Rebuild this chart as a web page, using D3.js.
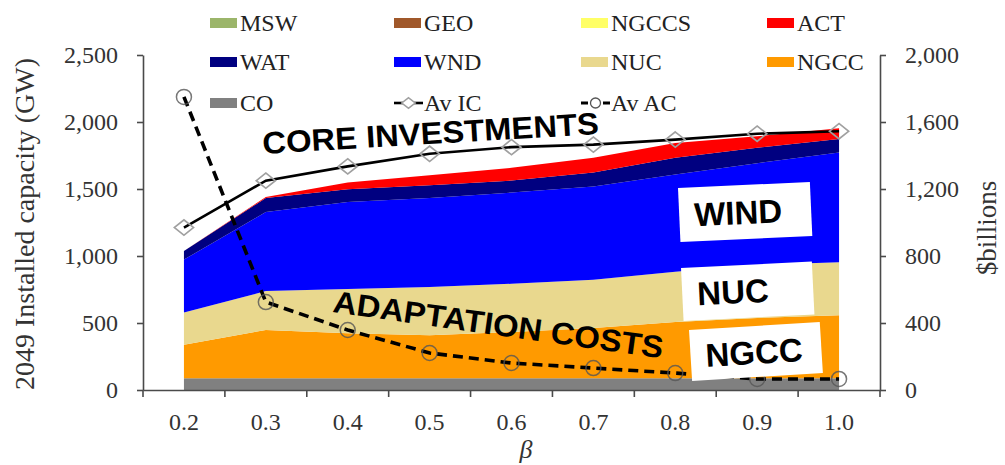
<!DOCTYPE html>
<html>
<head>
<meta charset="utf-8">
<script src="https://cdn.jsdelivr.net/npm/d3@7"></script>
<style>
  body { margin: 0; background: #fff; }
  svg { display: block; }
</style>
</head>
<body>
<svg id="chart" width="1005" height="465"></svg>
<script>
// Sensitivity parameter beta
const betas = ["0.2", "0.3", "0.4", "0.5", "0.6", "0.7", "0.8", "0.9", "1.0"];

// 2049 installed capacity by technology (GW)
const CO    = [88, 88, 88, 88, 88, 88, 88, 88, 88];
const NGCC  = [250, 360, 335, 320, 345, 375, 420, 450, 470];
const NUC   = [240, 290, 330, 360, 360, 360, 375, 395, 395];
const NGCCS = [0, 0, 0, 0, 0, 0, 0, 0, 0];
const WND   = [395, 590, 650, 665, 680, 695, 725, 760, 820];
const WAT   = [65, 105, 95, 95, 90, 105, 125, 115, 100];
const GEO   = [0, 0, 0, 0, 0, 0, 0, 0, 0];
const MSW   = [0, 0, 0, 0, 0, 0, 0, 0, 0];
const ACT   = [0, 8, 50, 75, 95, 110, 110, 85, 80];

// Average investment and adaptation costs ($ billions)
const AvIC = [970, 1250, 1335, 1410, 1450, 1465, 1495, 1530, 1545];
const AvAC = [1750, 525, 358, 221, 161, 131, 101, 66, 66];

// Axis ticks
const leftTicks  = [0, 500, 1000, 1500, 2000, 2500];
const rightTicks = [0, 400, 800, 1200, 1600, 2000];

const seriesKeys = ["CO", "NGCC", "NUC", "NGCCS", "WND", "WAT", "GEO", "MSW", "ACT"];
const seriesVals = { CO, NGCC, NUC, NGCCS, WND, WAT, GEO, MSW, ACT };
const colors = {
  MSW: "#9bb56a", GEO: "#a0582a", NGCCS: "#ffff66", ACT: "#ff0000",
  WAT: "#000080", WND: "#0000ff", NUC: "#e9d88e", NGCC: "#ff9a00",
  CO: "#808080"
};

const table = betas.map((b, i) => {
  const row = { beta: b };
  seriesKeys.forEach(k => row[k] = seriesVals[k][i]);
  return row;
});

const svg = d3.select("#chart");
const serif = '"Liberation Serif", "Times New Roman", serif';
const sans = '"Liberation Sans", Arial, sans-serif';

const x = d3.scaleBand().domain(betas).range([143, 880]).padding(0);
const cx = b => x(b) + x.bandwidth() / 2;
const yL = d3.scaleLinear().domain([0, 2500]).range([390, 55]);
const yR = d3.scaleLinear().domain([0, 2000]).range([390, 55]);

// Stacked capacity areas
const stacked = d3.stack().keys(seriesKeys)(table);
const area = d3.area()
  .x(d => cx(d.data.beta))
  .y0(d => yL(d[0]))
  .y1(d => yL(d[1]));

svg.append("g").selectAll("path")
  .data(stacked)
  .join("path")
  .attr("d", area)
  .attr("fill", d => colors[d.key]);

// Axes
const axisColor = "#4a4a4a";
const styleAxis = g => {
  g.attr("font-family", serif).attr("font-size", 24);
  g.selectAll("path.domain").attr("stroke", axisColor).attr("stroke-width", 1.6);
  g.selectAll(".tick line").attr("stroke", axisColor).attr("stroke-width", 1.6);
  g.selectAll(".tick text").attr("fill", "#333");
};

svg.append("g")
  .attr("transform", "translate(143,0)")
  .call(d3.axisLeft(yL).tickValues(leftTicks).tickFormat(d3.format(",")).tickSize(6).tickSizeOuter(0).tickPadding(19))
  .call(styleAxis);

svg.append("g")
  .attr("transform", "translate(880,0)")
  .call(d3.axisRight(yR).tickValues(rightTicks).tickFormat(d3.format(",")).tickSize(6).tickSizeOuter(0).tickPadding(19))
  .call(styleAxis);

const xAxis = svg.append("g")
  .attr("transform", "translate(0,390)")
  .call(d3.axisBottom(x).tickSize(0).tickSizeOuter(0).tickPadding(23))
  .call(styleAxis);

// category-boundary tick marks
const bounds = betas.map(b => x(b)).concat([x.range()[1]]);
xAxis.selectAll("line.bound")
  .data(bounds)
  .join("line")
  .attr("class", "bound")
  .attr("x1", d => d).attr("x2", d => d)
  .attr("y1", 0).attr("y2", 7)
  .attr("stroke", axisColor).attr("stroke-width", 1.6);

// Axis titles
svg.append("text")
  .attr("transform", "translate(34,224) rotate(-90)")
  .attr("text-anchor", "middle")
  .attr("font-family", serif).attr("font-size", 28).attr("fill", "#333")
  .text("2049 Installed capacity (GW)");

svg.append("text")
  .attr("transform", "translate(996,228) rotate(-90)")
  .attr("text-anchor", "middle")
  .attr("font-family", serif).attr("font-size", 27).attr("fill", "#333")
  .text("$billions");

svg.append("text")
  .attr("x", 526).attr("y", 458)
  .attr("text-anchor", "middle")
  .attr("font-family", serif).attr("font-style", "italic").attr("font-size", 26).attr("fill", "#333")
  .text("β");

// Cost lines
const costLine = d3.line().x((d, i) => cx(betas[i])).y(d => yR(d));
svg.append("path")
  .datum(AvIC)
  .attr("d", costLine)
  .attr("fill", "none").attr("stroke", "#000").attr("stroke-width", 2.6);

svg.append("path")
  .datum(AvAC)
  .attr("d", costLine)
  .attr("fill", "none").attr("stroke", "#000").attr("stroke-width", 3.6)
  .attr("stroke-dasharray", "10,6");

const diamond = d3.symbol().type(d3.symbolDiamond2).size(150);
svg.append("g").selectAll("path")
  .data(AvIC)
  .join("path")
  .attr("d", diamond)
  .attr("transform", (d, i) => `translate(${cx(betas[i])},${yR(d)}) scale(1.25,1)`)
  .attr("fill", "none").attr("stroke", "#a0a0a0").attr("stroke-width", 1.5);

svg.append("g").selectAll("circle")
  .data(AvAC)
  .join("circle")
  .attr("cx", (d, i) => cx(betas[i]))
  .attr("cy", d => yR(d))
  .attr("r", 7.5)
  .attr("fill", "none").attr("stroke", "#555").attr("stroke-opacity", 0.8).attr("stroke-width", 1.5);

// Annotations
const bigText = (txt, xx, yy, rot, size, len) =>
  svg.append("text")
    .attr("transform", `translate(${xx},${yy}) rotate(${rot})`)
    .attr("font-family", sans).attr("font-weight", "bold").attr("font-size", size)
    .attr("textLength", len).attr("lengthAdjust", "spacingAndGlyphs")
    .attr("fill", "#000")
    .text(txt);

bigText("CORE INVESTMENTS", 263, 154, -3.4, 31, 337);
bigText("ADAPTATION COSTS", 332, 312, 8, 31, 333);

const boxLabel = (txt, bx, by, w, h, rot, tx, ty) => {
  const g = svg.append("g").attr("transform", `translate(${bx},${by}) rotate(${rot})`);
  g.append("rect").attr("x", 0).attr("y", 0).attr("width", w).attr("height", h).attr("fill", "#fff");
  g.append("text")
    .attr("x", tx).attr("y", ty)
    .attr("font-family", sans).attr("font-weight", "bold").attr("font-size", 33)
    .attr("fill", "#000")
    .text(txt);
};
boxLabel("WIND", 678, 188, 132, 54, -2.6, 15, 39);
boxLabel("NUC", 681, 268, 131, 53, -2.8, 15, 38);
boxLabel("NGCC", 689, 330, 131, 51, -3.5, 15, 38);

// Legend
const legendItems = [
  { key: "MSW", col: 0, row: 0 }, { key: "GEO", col: 1, row: 0 },
  { key: "NGCCS", col: 2, row: 0 }, { key: "ACT", col: 3, row: 0 },
  { key: "WAT", col: 0, row: 1 }, { key: "WND", col: 1, row: 1 },
  { key: "NUC", col: 2, row: 1 }, { key: "NGCC", col: 3, row: 1 },
  { key: "CO", col: 0, row: 2 }, { key: "Av IC", col: 1, row: 2, line: "ic" },
  { key: "Av AC", col: 2, row: 2, line: "ac" }
];
const colX = [210, 394, 581, 767];
const rowY = [23, 62, 103];

const leg = svg.append("g");
legendItems.forEach(it => {
  const lx = colX[it.col], ly = rowY[it.row];
  if (!it.line) {
    leg.append("rect").attr("x", lx).attr("y", ly - 5).attr("width", 27).attr("height", 10)
      .attr("fill", colors[it.key]);
  } else if (it.line === "ic") {
    leg.append("line").attr("x1", lx).attr("x2", lx + 29).attr("y1", ly).attr("y2", ly)
      .attr("stroke", "#000").attr("stroke-width", 2.6);
    leg.append("path").attr("d", d3.symbol().type(d3.symbolDiamond2).size(70))
      .attr("transform", `translate(${lx + 14.5},${ly}) scale(1.3,1)`)
      .attr("fill", "#fff").attr("stroke", "#a0a0a0").attr("stroke-width", 1.3);
  } else {
    leg.append("line").attr("x1", lx).attr("x2", lx + 29).attr("y1", ly).attr("y2", ly)
      .attr("stroke", "#000").attr("stroke-width", 3).attr("stroke-dasharray", "7,4");
    leg.append("circle").attr("cx", lx + 14.5).attr("cy", ly).attr("r", 5)
      .attr("fill", "#fff").attr("stroke", "#555").attr("stroke-width", 1.3);
  }
  leg.append("text")
    .attr("x", lx + 30).attr("y", ly + 8)
    .attr("font-family", serif).attr("font-size", 24).attr("fill", "#222")
    .text(it.key);
});
</script>
</body>
</html>
